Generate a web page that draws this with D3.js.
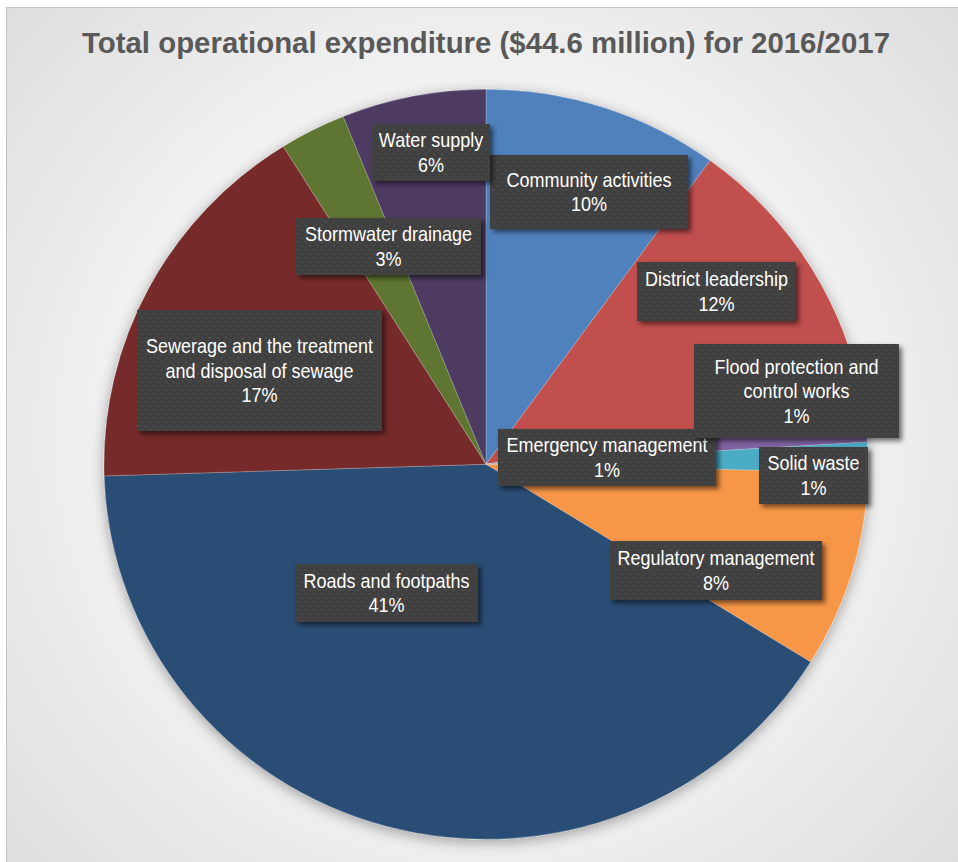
<!DOCTYPE html>
<html>
<head>
<meta charset="utf-8">
<script src="https://cdn.jsdelivr.net/npm/d3@7/dist/d3.min.js"></script>
<style>
  html, body { margin: 0; padding: 0; background: #ffffff; }
  svg { display: block; }
</style>
</head>
<body>
<svg id="chart" width="958" height="862"></svg>
<script>
// Operational expenditure 2016/2017, $ million, in drawing order (clockwise from 12 o'clock)
const categories = [
  "Community activities",
  "District leadership",
  "Emergency management",
  "Flood protection and control works",
  "Solid waste",
  "Regulatory management",
  "Roads and footpaths",
  "Sewerage and the treatment and disposal of sewage",
  "Stormwater drainage",
  "Water supply"
];
const expenditure = [4.45, 5.54, 0.29, 0.45, 0.58, 3.78, 18.14, 7.40, 1.25, 2.72];
const sliceColors = ["#4f81bd", "#c0504d", "#9bbb59", "#8064a2", "#4bacc6",
                     "#f79646", "#2c4d75", "#772c2a", "#5f7530", "#4d3b62"];
const titleText = "Total operational expenditure ($44.6 million) for 2016/2017";

// Label box placement (box corners) and how many words sit on each text line
const labelLayout = [
  { box: [490, 155, 688, 229], words: [2] },
  { box: [637, 262, 796, 321], words: [2] },
  { box: [498, 429, 716, 486], words: [2] },
  { box: [694, 344, 899, 438], words: [3, 2] },
  { box: [759, 447, 868, 504], words: [2] },
  { box: [610, 541, 822, 600], words: [2] },
  { box: [295, 564, 478, 622], words: [3] },
  { box: [137, 310, 382, 431], words: [4, 4] },
  { box: [296, 218, 481, 275], words: [2] },
  { box: [372, 124, 490, 181], words: [2] }
];

const svg = d3.select("#chart");
const W = 958, H = 862;
const cx = 486, cy = 464.3, rx = 382, ry = 375;

const defs = svg.append("defs");

// Panel background gradient
const bg = defs.append("radialGradient")
  .attr("id", "bgGrad").attr("gradientUnits", "userSpaceOnUse")
  .attr("cx", 480).attr("cy", 440).attr("r", 760);
bg.append("stop").attr("offset", "0").attr("stop-color", "#ffffff");
bg.append("stop").attr("offset", "0.45").attr("stop-color", "#f3f3f3");
bg.append("stop").attr("offset", "1").attr("stop-color", "#d5d5d5");

// Soft shadow around the pie
const pieShadow = defs.append("filter").attr("id", "pieShadow")
  .attr("x", "-10%").attr("y", "-10%").attr("width", "120%").attr("height", "120%");
pieShadow.append("feGaussianBlur").attr("in", "SourceAlpha").attr("stdDeviation", 7).attr("result", "b");
pieShadow.append("feOffset").attr("in", "b").attr("dx", 0).attr("dy", 3).attr("result", "o");
pieShadow.append("feComponentTransfer").attr("in", "o").attr("result", "s")
  .append("feFuncA").attr("type", "linear").attr("slope", 0.35);
const pm = pieShadow.append("feMerge");
pm.append("feMergeNode").attr("in", "s");
pm.append("feMergeNode").attr("in", "SourceGraphic");

// Drop shadow for label boxes
const boxShadow = defs.append("filter").attr("id", "boxShadow")
  .attr("x", "-20%").attr("y", "-30%").attr("width", "140%").attr("height", "160%");
boxShadow.append("feDropShadow").attr("dx", 3).attr("dy", 3).attr("stdDeviation", 2.5)
  .attr("flood-color", "#000").attr("flood-opacity", 0.55);

// Dotted texture for label boxes
const pat = defs.append("pattern").attr("id", "dots").attr("patternUnits", "userSpaceOnUse")
  .attr("width", 8).attr("height", 8);
pat.append("rect").attr("width", 8).attr("height", 8).attr("fill", "#3f3f3f");
pat.append("circle").attr("cx", 2).attr("cy", 2).attr("r", 1.1).attr("fill", "#4f4f4f");
pat.append("circle").attr("cx", 6).attr("cy", 6).attr("r", 1.1).attr("fill", "#4f4f4f");

// Background panel
svg.append("rect").attr("x", 0).attr("y", 0).attr("width", W).attr("height", H).attr("fill", "#ffffff");
svg.append("rect").attr("x", 6.5).attr("y", 7.5).attr("width", W + 10).attr("height", H + 10)
  .attr("fill", "url(#bgGrad)").attr("stroke", "#c4c4c4").attr("stroke-width", 1);

// Title
svg.append("text")
  .attr("x", 486).attr("y", 53.3)
  .attr("text-anchor", "middle")
  .attr("font-family", "Liberation Sans, Arial, sans-serif")
  .attr("font-weight", "bold")
  .attr("font-size", 30)
  .attr("fill", "#595959")
  .attr("textLength", 808)
  .attr("lengthAdjust", "spacingAndGlyphs")
  .text(titleText);

// Pie
const data = categories.map((c, i) => ({ name: c, value: expenditure[i], color: sliceColors[i], layout: labelLayout[i] }));
const total = d3.sum(expenditure);
const pie = d3.pie().value(d => d.value).sort(null);
const arcs = pie(data);
const arc = d3.arc().innerRadius(0).outerRadius(ry);

const pieG = svg.append("g")
  .attr("transform", `translate(${cx},${cy}) scale(${rx / ry},1)`)
  .attr("filter", "url(#pieShadow)");
pieG.selectAll("path").data(arcs).join("path")
  .attr("d", arc)
  .attr("fill", d => d.data.color)
  .attr("stroke", "rgba(255,255,255,0.35)")
  .attr("stroke-width", 0.6);

// Data labels
const pct = d3.format(".0%");
const capH = 14.3, lineH = 24.4;
const labelG = svg.append("g")
  .attr("font-family", "Liberation Sans, Arial, sans-serif")
  .attr("font-size", 20)
  .attr("fill", "#ffffff");

data.forEach(d => {
  const [x0, y0, x1, y1] = d.layout.box;
  const words = d.name.split(" ");
  const lines = [];
  let k = 0;
  d.layout.words.forEach(n => { lines.push(words.slice(k, k + n).join(" ")); k += n; });
  if (k < words.length) lines.push(words.slice(k).join(" "));
  lines.push(pct(Math.round(d.value / total * 100) / 100));

  const g = labelG.append("g");
  g.append("rect")
    .attr("x", x0).attr("y", y0).attr("width", x1 - x0).attr("height", y1 - y0)
    .attr("fill", "url(#dots)")
    .attr("filter", "url(#boxShadow)");

  const mx = (x0 + x1) / 2, my = (y0 + y1) / 2;
  const blockH = capH + (lines.length - 1) * lineH;
  const firstBase = my - blockH / 2 + capH;
  const t = g.append("g").attr("transform", `translate(${mx},0) scale(0.9,1)`);
  lines.forEach((ln, i) => {
    t.append("text")
      .attr("x", 0).attr("y", firstBase + i * lineH)
      .attr("text-anchor", "middle")
      .text(ln);
  });
});
</script>
</body>
</html>
